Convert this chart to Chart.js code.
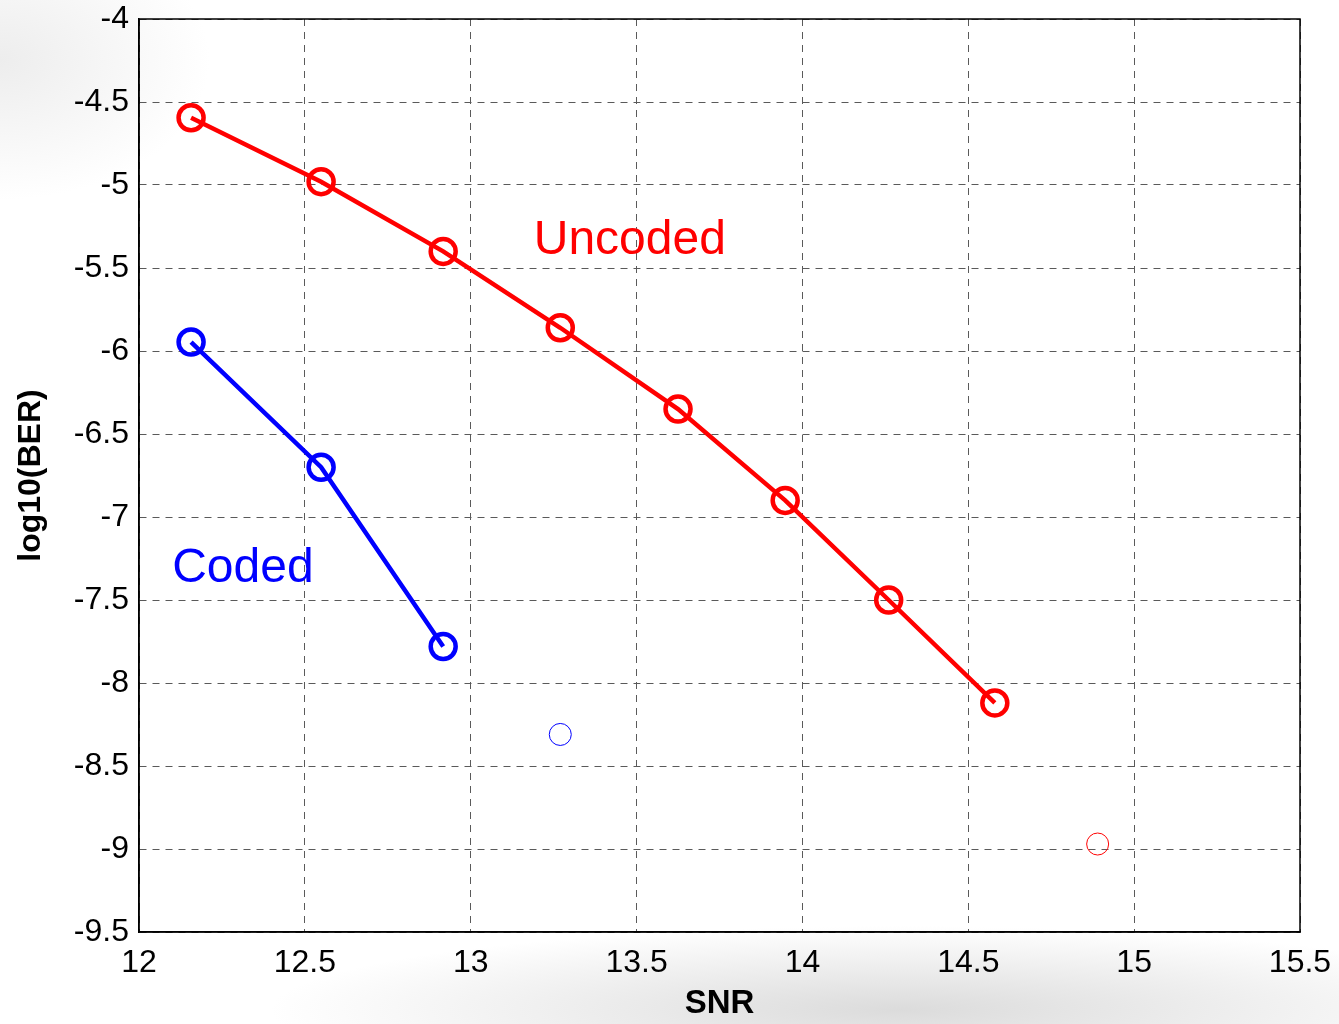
<!DOCTYPE html>
<html lang="en">
<head>
    <meta charset="UTF-8">
    <title>BER vs SNR</title>
    <script src="https://cdn.jsdelivr.net/npm/chart.js"></script>
    <style>
        html, body { margin: 0; padding: 0; }
        body {
            width: 1339px; height: 1024px; overflow: hidden;
            background:
                radial-gradient(ellipse 900px 120px at 900px 1010px, rgba(190,190,190,0.55), rgba(255,255,255,0) 70%),
                radial-gradient(ellipse 300px 200px at 0px 60px, rgba(225,225,225,0.6), rgba(255,255,255,0) 70%),
                #ffffff;
        }
        #chart-container { position: relative; width: 1339px; height: 1024px; }
    </style>
</head>
<body>
    <div id="chart-container">
        <canvas id="ber-chart"></canvas>
    </div>

    <script>
        // values
        const uncodedSnr = [12.157, 12.549, 12.917, 13.27, 13.625, 13.948, 14.26, 14.58];
        const uncodedBer = [-4.595, -4.98, -5.40, -5.86, -6.35, -6.90, -7.50, -8.12];
        const codedSnr = [12.157, 12.549, 12.917];
        const codedBer = [-5.946, -6.70, -7.78];
        const codedExtraSnr = [13.27];
        const codedExtraBer = [-8.31];
        const uncodedExtraSnr = [14.89];
        const uncodedExtraBer = [-8.97];
        const xTicks = [12, 12.5, 13, 13.5, 14, 14.5, 15, 15.5];
        const yTicks = [-4, -4.5, -5, -5.5, -6, -6.5, -7, -7.5, -8, -8.5, -9, -9.5];

        const toPoints = (xs, ys) => xs.map((x, i) => ({ x: x, y: ys[i] }));
        const FONT = "'Liberation Sans', Arial, sans-serif";

        // frame box + text labels inside the plot
        const boxAndLabels = {
            id: "boxAndLabels",
            afterDraw(chart) {
                const { ctx, chartArea, scales } = chart;
                ctx.save();
                ctx.strokeStyle = "#000";
                ctx.lineWidth = 1.5;
                ctx.strokeRect(chartArea.left, chartArea.top, chartArea.right - chartArea.left, chartArea.bottom - chartArea.top);

                ctx.font = "48px " + FONT;
                ctx.textBaseline = "middle";
                ctx.textAlign = "left";
                ctx.fillStyle = "#ff0000";
                ctx.fillText("Uncoded", scales.x.getPixelForValue(13.19), scales.y.getPixelForValue(-5.335));
                ctx.fillStyle = "#0000ff";
                ctx.fillText("Coded", scales.x.getPixelForValue(12.10), scales.y.getPixelForValue(-7.31));
                ctx.restore();
            }
        };

        const tickFont = { family: FONT, size: 32 };

        new Chart(document.getElementById("ber-chart").getContext("2d"), {
            type: "scatter",
            data: {
                datasets: [
                    {
                        label: "Uncoded",
                        data: toPoints(uncodedSnr, uncodedBer),
                        showLine: true,
                        borderColor: "#ff0000",
                        borderWidth: 4.5,
                        pointRadius: 12.5,
                        pointBorderWidth: 4.5,
                        pointBorderColor: "#ff0000",
                        pointBackgroundColor: "rgba(0,0,0,0)"
                    },
                    {
                        label: "Coded",
                        data: toPoints(codedSnr, codedBer),
                        showLine: true,
                        borderColor: "#0000ff",
                        borderWidth: 4.5,
                        pointRadius: 12.5,
                        pointBorderWidth: 4.5,
                        pointBorderColor: "#0000ff",
                        pointBackgroundColor: "rgba(0,0,0,0)"
                    },
                    {
                        label: "Coded (extra)",
                        data: toPoints(codedExtraSnr, codedExtraBer),
                        showLine: false,
                        pointRadius: 11,
                        pointBorderWidth: 1,
                        pointBorderColor: "#0000ff",
                        pointBackgroundColor: "rgba(0,0,0,0)"
                    },
                    {
                        label: "Uncoded (extra)",
                        data: toPoints(uncodedExtraSnr, uncodedExtraBer),
                        showLine: false,
                        pointRadius: 11,
                        pointBorderWidth: 1,
                        pointBorderColor: "#ff0000",
                        pointBackgroundColor: "rgba(0,0,0,0)"
                    }
                ]
            },
            options: {
                responsive: true,
                maintainAspectRatio: false,
                animation: false,
                layout: { padding: { top: 19, right: 39, left: 12, bottom: 0 } },
                plugins: {
                    legend: { display: false },
                    tooltip: { enabled: false }
                },
                scales: {
                    x: {
                        type: "linear",
                        min: 12,
                        max: 15.5,
                        afterBuildTicks: axis => { axis.ticks = xTicks.map(v => ({ value: v })); },
                        afterFit: axis => {
                            axis.height = 92;
                            axis.paddingLeft = 0;
                            axis.paddingRight = 0;
                        },
                        ticks: {
                            font: tickFont,
                            color: "#000",
                            padding: 12,
                            maxRotation: 0,
                            callback: v => String(v)
                        },
                        grid: {
                            color: "#5a5a5a",
                            lineWidth: 1,
                            tickLength: 0,
                            drawTicks: false
                        },
                        border: { display: true, color: "#000", width: 1.5, dash: [7, 6] },
                        title: {
                            display: true,
                            text: "SNR",
                            color: "#000",
                            font: { family: FONT, size: 33, weight: "bold" },
                            padding: { top: 6, bottom: 0 }
                        }
                    },
                    y: {
                        type: "linear",
                        min: -9.5,
                        max: -4,
                        afterBuildTicks: axis => { axis.ticks = yTicks.map(v => ({ value: v })); },
                        afterFit: axis => {
                            axis.width = 127;
                            axis.paddingTop = 0;
                            axis.paddingBottom = 0;
                        },
                        ticks: {
                            font: tickFont,
                            color: "#000",
                            padding: 10,
                            callback: v => String(v)
                        },
                        grid: {
                            color: "#5a5a5a",
                            lineWidth: 1,
                            tickLength: 0,
                            drawTicks: false
                        },
                        border: { display: true, color: "#000", width: 1.5, dash: [7, 6] },
                        title: {
                            display: true,
                            text: "log10(BER)",
                            color: "#000",
                            font: { family: FONT, size: 32, weight: "bold" },
                            padding: { top: 0, bottom: 0 }
                        }
                    }
                }
            },
            plugins: [boxAndLabels]
        });
    </script>
</body>
</html>
